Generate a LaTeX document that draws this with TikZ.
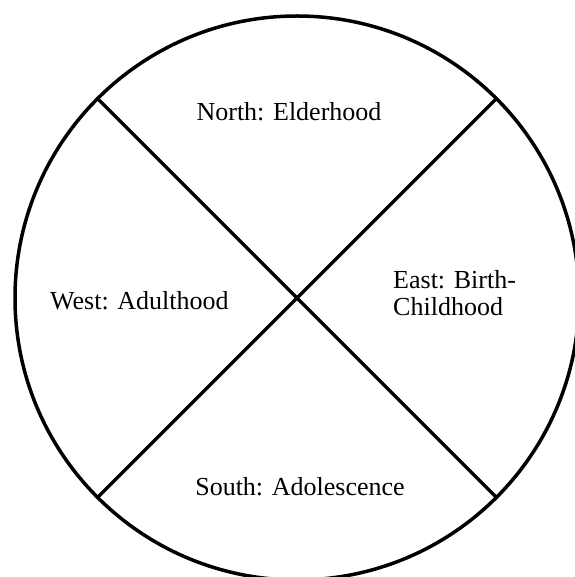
\documentclass[tikz,border=0pt]{standalone}
\usepackage{fontspec}
\setmainfont{Liberation Serif}
\usetikzlibrary{positioning, calc}

\begin{document}
\begin{tikzpicture}[
  x=1pt, y=-1pt,
  wheel/.style={line width=3.5pt},
  quarter/.style={font=\fontsize{26}{27}\selectfont, inner sep=0pt, align=left}
]
\useasboundingbox (0,0) rectangle (574,577);

% circle and the two spokes
\coordinate (hub) at (297,298);
\draw[wheel] (hub) circle[radius=282];
\coordinate (nw) at ($(hub)+(135:282)$);
\coordinate (se) at ($(hub)+(-45:282)$);
\coordinate (ne) at ($(hub)+(45:282)$);
\coordinate (sw) at ($(hub)+(225:282)$);
\draw[wheel] (nw) -- (se);
\draw[wheel] (ne) -- (sw);

% the four directions
\node[quarter, anchor=base] (north) at (289,121) {North: Elderhood};
\node[quarter, anchor=base west] (west) at (50,309) {West: Adulthood};
\node[quarter, anchor=base] (south) at (300,495) {South: Adolescence};
\node[quarter, anchor=base west] (east) at (393,315) {East: Birth-\\Childhood};
\end{tikzpicture}
\end{document}
